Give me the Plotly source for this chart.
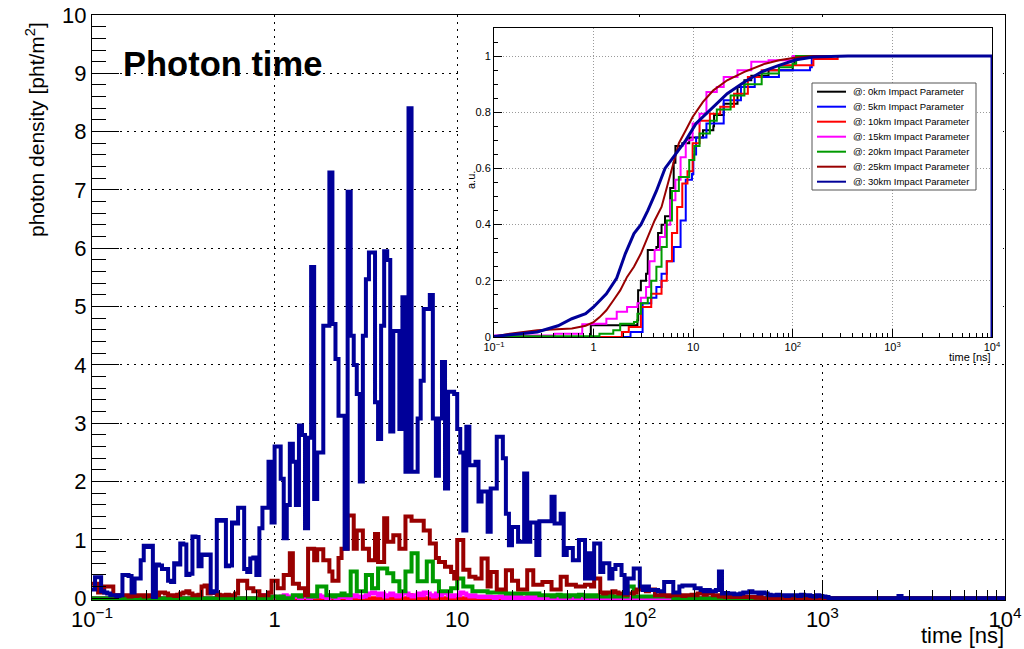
import numpy as np
import plotly.graph_objects as go

W, H = 1024, 649
FONT = "Liberation Sans, Arial, sans-serif"
# main frame in pixels
PL, PR, PT, PB = 92, 1005, 15, 600

# ---------------- binning of the photon-time histograms ----------------
N_BINS = 300
T_MIN, T_MAX = 0.1, 1.0e4
bin_edges = np.logspace(np.log10(T_MIN), np.log10(T_MAX), N_BINS + 1)

# photon density per time bin [pht/m^2], 30 km impact parameter
density_30km = [
    0.15, 0.36, 0.36, 0.12, 0.10, 0.08, 0.05, 0.05, 0.04, 0.05,
    0.40, 0.40, 0.38, 0.10, 0.34, 0.34, 0.65, 0.90, 0.88, 0.90,
    0.02, 0.58, 0.56, 0.50, 0.50, 0.30, 0.28, 0.60, 0.58, 0.94,
    0.92, 0.40, 0.42, 1.06, 1.05, 0.55, 0.75, 0.74, 0.75, 0.10,
    0.12, 1.34, 1.33, 1.34, 0.55, 0.56, 1.30, 1.28, 1.55, 1.55,
    0.50, 0.45, 0.68, 0.70, 0.40, 1.20, 1.55, 1.55, 2.34, 1.30,
    2.60, 2.60, 2.05, 1.03, 1.60, 2.65, 2.34, 1.60, 2.96, 2.80,
    1.20, 2.75, 5.68, 1.70, 2.50, 2.50, 4.67, 4.67, 7.30, 4.70,
    4.10, 3.13, 3.13, 0.85, 6.97, 4.50, 4.00, 3.50, 2.00, 4.50,
    5.47, 5.93, 5.93, 3.36, 2.73, 4.67, 5.95, 5.80, 2.86, 4.58,
    4.58, 2.90, 5.16, 2.17, 8.40, 2.17, 2.17, 3.08, 3.73, 4.96,
    4.96, 5.20, 3.08, 2.10, 3.08, 4.05, 1.88, 3.54, 3.54, 3.50,
    2.90, 2.50, 1.16, 2.94, 2.28, 2.28, 2.34, 1.66, 1.83, 1.83,
    1.14, 1.88, 1.88, 2.77, 2.77, 2.40, 1.45, 0.91, 1.22, 1.22,
    0.97, 0.97, 2.14, 0.97, 1.30, 1.30, 0.74, 1.32, 1.32, 1.32,
    1.32, 1.74, 1.28, 1.28, 1.45, 0.74, 0.86, 0.86, 0.65, 0.65,
    1.00, 1.00, 0.34, 0.77, 0.34, 0.94, 0.94, 0.45, 0.60, 0.60,
    0.34, 0.50, 0.57, 0.57, 0.40, 0.085, 0.34, 0.34, 0.51, 0.51,
    0.20, 0.14, 0.20, 0.14, 0.14, 0.14, 0.12, 0.12, 0.28, 0.28,
    0.28, 0.10, 0.10, 0.20, 0.22, 0.22, 0.22, 0.22, 0.17, 0.17,
    0.14, 0.12, 0.14, 0.12, 0.12, 0.14, 0.46, 0.08, 0.09, 0.08,
    0.08, 0.07, 0.07, 0.08, 0.10, 0.10, 0.12, 0.10, 0.10, 0.08,
    0.10, 0.08, 0.06, 0.05, 0.05, 0.06, 0.05, 0.05, 0.04, 0.05,
    0.05, 0.05, 0.04, 0.06, 0.05, 0.05, 0.04, 0.03, 0.05, 0.04,
    0.03, 0.02, 0.00, 0.00, 0.00, 0.00, 0.00, 0.00, 0.00, 0.00,
    0.00, 0.00, 0.00, 0.00, 0.00, 0.00, 0.00, 0.00, 0.00, 0.00,
    0.00, 0.00, 0.00, 0.00, 0.00, 0.04, 0.00, 0.00, 0.00, 0.00,
]

# 25 km impact parameter
density_25km = [
    0.25, 0.25, 0.10, 0.10, 0.20, 0.20, 0.20, 0.05, 0.04, 0.05,
    0.05, 0.05, 0.03, 0.05, 0.04, 0.05, 0.05, 0.03, 0.05, 0.04,
    0.03, 0.05, 0.10, 0.10, 0.08, 0.05, 0.05, 0.04, 0.06, 0.08,
    0.10, 0.12, 0.08, 0.05, 0.05, 0.06, 0.20, 0.22, 0.08, 0.10,
    0.09, 0.06, 0.05, 0.05, 0.06, 0.05, 0.05, 0.08, 0.30, 0.30,
    0.30, 0.17, 0.17, 0.12, 0.12, 0.05, 0.05, 0.05, 0.10, 0.30,
    0.30, 0.17, 0.17, 0.40, 0.40, 0.77, 0.25, 0.25, 0.17, 0.17,
    0.05, 0.85, 0.85, 0.65, 0.84, 0.84, 0.65, 0.65, 0.46, 0.30,
    0.30, 0.69, 0.85, 0.85, 1.42, 1.42, 0.85, 1.16, 1.16, 0.85,
    0.85, 0.65, 0.65, 1.10, 0.62, 0.62, 1.37, 0.97, 0.97, 1.08,
    1.08, 0.85, 0.85, 1.40, 1.40, 1.33, 1.33, 1.33, 1.33, 1.16,
    1.16, 0.94, 0.94, 0.69, 0.62, 0.62, 0.54, 0.54, 0.45, 0.34,
    1.00, 1.00, 0.49, 0.49, 0.37, 0.37, 0.34, 0.34, 0.68, 0.68,
    0.20, 0.45, 0.45, 0.15, 0.15, 0.15, 0.48, 0.48, 0.30, 0.30,
    0.15, 0.15, 0.15, 0.48, 0.48, 0.23, 0.23, 0.23, 0.28, 0.28,
    0.28, 0.15, 0.15, 0.15, 0.37, 0.37, 0.23, 0.23, 0.23, 0.20,
    0.20, 0.20, 0.23, 0.23, 0.20, 0.34, 0.34, 0.10, 0.08, 0.10,
    0.10, 0.12, 0.10, 0.08, 0.08, 0.06, 0.08, 0.08, 0.10, 0.15,
    0.15, 0.15, 0.12, 0.15, 0.15, 0.05, 0.05, 0.06, 0.05, 0.04,
    0.05, 0.05, 0.06, 0.05, 0.04, 0.05, 0.05, 0.06, 0.05, 0.08,
    0.10, 0.06, 0.10, 0.08, 0.05, 0.05, 0.03, 0.03, 0.02, 0.03,
    0.02, 0.03, 0.02, 0.02, 0.03, 0.02, 0.02, 0.02, 0.01, 0.02,
]

# 20 km impact parameter
density_20km = [0.0] * 59 + [
    0.03, 0.03, 0.00, 0.03, 0.00, 0.00, 0.00, 0.05, 0.05, 0.03, 0.05,
    0.05, 0.03, 0.05, 0.03, 0.20, 0.20, 0.20, 0.05, 0.05, 0.03,
    0.05, 0.05, 0.08, 0.05, 0.05, 0.46, 0.46, 0.12, 0.12, 0.12,
    0.40, 0.40, 0.17, 0.17, 0.51, 0.51, 0.51, 0.43, 0.43, 0.29,
    0.29, 0.12, 0.12, 0.46, 0.46, 0.77, 0.77, 0.29, 0.29, 0.29,
    0.63, 0.63, 0.29, 0.29, 0.12, 0.12, 0.12, 0.12, 0.17, 0.17,
    0.34, 0.34, 0.20, 0.20, 0.20, 0.12, 0.12, 0.12, 0.12, 0.12,
    0.10, 0.10, 0.10, 0.10, 0.10, 0.10, 0.08, 0.08, 0.08, 0.08,
    0.08, 0.08, 0.08, 0.08, 0.08, 0.08, 0.08, 0.05, 0.05, 0.05,
    0.05, 0.03, 0.05, 0.06, 0.03, 0.05, 0.03, 0.05, 0.05, 0.03,
    0.06, 0.05, 0.03, 0.05, 0.03, 0.05, 0.03, 0.03, 0.05, 0.03,
    0.05, 0.03, 0.03, 0.05, 0.03, 0.03, 0.20, 0.20, 0.03, 0.03,
    0.03, 0.03, 0.03, 0.03, 0.03, 0.03, 0.03, 0.03, 0.03, 0.03,
    0.03,
]

# 15 km impact parameter
density_15km = [0.0] * 55 + [
    0.03, 0.05, 0.03, 0.00, 0.03, 0.02, 0.00, 0.03, 0.05, 0.03,
    0.00, 0.02, 0.03, 0.00, 0.02, 0.03, 0.00, 0.02, 0.03, 0.05,
    0.03, 0.02, 0.00, 0.03, 0.02, 0.00, 0.03, 0.02, 0.03, 0.00,
    0.03, 0.05, 0.03, 0.02, 0.03, 0.05, 0.08, 0.10, 0.08, 0.05,
    0.08, 0.03, 0.05, 0.08, 0.05, 0.03, 0.05, 0.10, 0.08, 0.05,
    0.03, 0.05, 0.08, 0.05, 0.10, 0.08, 0.05, 0.03, 0.08, 0.05,
    0.10, 0.08, 0.05, 0.03, 0.05, 0.05, 0.10, 0.08, 0.05, 0.03,
    0.05, 0.03, 0.02, 0.03, 0.02, 0.03, 0.02, 0.00, 0.02, 0.03,
    0.00, 0.02, 0.00, 0.02, 0.00, 0.02, 0.00, 0.00, 0.02, 0.00,
    0.02,
]

# 10 km impact parameter (almost empty at this scale)
density_10km = [0.0] * 104 + [0.05, 0.00, 0.00, 0.00, 0.03] + [0.0] * 9 + [0.03]


def padded(values):
    """Trailing empty bins are zero."""
    assert len(values) <= N_BINS
    return list(values) + [0.0] * (N_BINS - len(values))


# ---------------- cumulative fractions for the inset ----------------
cdf_0km_t = [0.1, 0.938, 1.849, 2.754, 2.798, 2.983, 3.363, 3.499, 4.27, 4.44, 4.81,
             5.21, 5.88, 6.37, 6.63, 7.77, 9.12, 12.54, 15.93, 16.19, 20.24, 27.85,
             32.67, 38.3, 57.1, 99.8, 104]
cdf_0km_v = [0.0, 0.042, 0.042, 0.06, 0.166, 0.20, 0.225, 0.31, 0.32, 0.37, 0.40,
             0.43, 0.53, 0.62, 0.68, 0.69, 0.71, 0.736, 0.75, 0.79, 0.83, 0.89,
             0.914, 0.93, 0.95, 0.973, 1.0]

cdf_5km_t = [0.1, 2.348, 3.105, 3.79, 4.27, 4.81, 5.43, 6.37, 7.47, 8.42, 9.72, 10.03,
             10.69, 13.58, 20.24, 30.16, 41.5, 72.6, 149, 155]
cdf_5km_v = [0.0, 0.018, 0.12, 0.14, 0.178, 0.225, 0.27, 0.32, 0.415, 0.56, 0.58, 0.65,
             0.71, 0.76, 0.843, 0.89, 0.926, 0.95, 0.96, 1.0]

cdf_10km_t = [0.1, 1.923, 2.255, 2.983, 3.79, 4.81, 5.43, 6.12, 6.90, 7.77, 8.76, 9.87,
              11.58, 14.71, 18.69, 25.71, 35.38, 48.7, 72.6, 161, 282]
cdf_10km_v = [0.0, 0.018, 0.036, 0.107, 0.154, 0.20, 0.27, 0.37, 0.463, 0.546, 0.59, 0.69,
              0.77, 0.795, 0.82, 0.866, 0.926, 0.95, 0.967, 0.99, 1.0]

cdf_15km_t = [0.1, 0.375, 0.406, 0.769, 1.0, 1.343, 1.707, 2.168, 2.754, 2.983, 3.363,
              3.641, 4.10, 4.63, 5.21, 5.88, 6.63, 7.47, 8.42, 9.87, 11.58, 13.58,
              17.26, 20.24, 27.85, 38.3, 57.1, 99.8]
cdf_15km_v = [0.005, 0.005, 0.012, 0.045, 0.047, 0.065, 0.09, 0.107, 0.12, 0.14, 0.178,
              0.27, 0.31, 0.356, 0.40, 0.487, 0.56, 0.64, 0.70, 0.76, 0.795, 0.872,
              0.89, 0.926, 0.95, 0.98, 0.985, 1.0]

cdf_20km_t = [0.1, 0.605, 1.145, 1.576, 1.849, 2.543, 2.754, 2.983, 3.499, 3.79, 4.27,
              4.81, 5.43, 6.12, 7.18, 9.12, 10.27, 11.58, 14.71, 17.26, 23.74, 32.67,
              48.7, 72.6, 99.8, 108]
cdf_20km_v = [0.003, 0.003, 0.012, 0.024, 0.047, 0.053, 0.083, 0.12, 0.14, 0.20, 0.25,
              0.32, 0.415, 0.52, 0.57, 0.63, 0.68, 0.724, 0.77, 0.81, 0.86, 0.90,
              0.938, 0.96, 0.973, 1.0]

cdf_25km_t = [0.1, 0.144, 0.272, 0.605, 0.832, 1.0, 1.145, 1.343, 1.576, 1.849, 2.168,
              2.543, 2.983, 3.499, 4.10, 4.81, 5.43, 6.12, 7.18, 8.42, 9.87, 12.54,
              15.93, 21.92, 32.67, 52.7, 72.6, 108, 161]
cdf_25km_v = [0.002, 0.012, 0.024, 0.03, 0.04, 0.053, 0.07, 0.095, 0.13, 0.166, 0.214,
              0.25, 0.297, 0.356, 0.415, 0.463, 0.534, 0.605, 0.69, 0.736, 0.783, 0.837,
              0.878, 0.914, 0.944, 0.973, 0.985, 0.995, 1.0]

cdf_30km_t = [0.1, 0.272, 0.44, 0.605, 0.832, 1.0, 1.343, 1.707, 2.084, 2.543, 2.983,
              3.499, 4.27, 5.21, 6.63, 8.42, 10.69, 14.71, 21.92, 32.67, 48.7, 72.6,
              108, 161, 358]
cdf_30km_v = [0.002, 0.018, 0.04, 0.065, 0.083, 0.107, 0.154, 0.21, 0.297, 0.368, 0.40,
              0.45, 0.52, 0.60, 0.65, 0.70, 0.76, 0.807, 0.866, 0.908, 0.944, 0.967,
              0.987, 0.997, 1.0]

series_labels = ["@: 0km Impact Parameter", "@: 5km Impact Parameter",
                 "@: 10km Impact Parameter", "@: 15km Impact Parameter",
                 "@: 20km Impact Parameter", "@: 25km Impact Parameter",
                 "@: 30km Impact Parameter"]
series_colors = ["#000000", "#0000ff", "#ff0000", "#ff00ff", "#009a00", "#990000", "#000099"]
inset_t = [cdf_0km_t, cdf_5km_t, cdf_10km_t, cdf_15km_t, cdf_20km_t, cdf_25km_t, cdf_30km_t]
inset_v = [cdf_0km_v, cdf_5km_v, cdf_10km_v, cdf_15km_v, cdf_20km_v, cdf_25km_v, cdf_30km_v]
inset_shape = ["hv", "hv", "hv", "hv", "hv", "linear", "linear"]

decade_vals = [0.1, 1, 10, 100, 1000, 10000]
decade_text = ["10<sup>\u22121</sup>", "1", "10", "10<sup>2</sup>", "10<sup>3</sup>", "10<sup>4</sup>"]
minor_vals = [m * 10.0 ** e for e in range(-1, 4) for m in range(2, 10)]


def fx(px):
    """pixel column -> paper x (paper spans the main frame)"""
    return (px - PL) / (PR - PL)


def fy(py):
    """pixel row -> paper y"""
    return (PB - py) / (PB - PT)


fig = go.Figure()

# main histograms, drawn in ascending impact parameter so 30 km lies on top
main_series = [(density_10km, series_colors[2]), (density_15km, series_colors[3]),
               (density_20km, series_colors[4]), (density_25km, series_colors[5]),
               (density_30km, series_colors[6])]
for vals, col in main_series:
    v = padded(vals)
    fig.add_trace(go.Scatter(
        x=bin_edges, y=v + [v[-1]], mode="lines",
        line=dict(color=col, width=4, shape="hv"),
        xaxis="x", yaxis="y", showlegend=False, hoverinfo="skip"))

# empty white pad (own subplot) that sits behind the inset
fig.add_trace(go.Scatter(x=[0], y=[0], mode="lines", xaxis="x2", yaxis="y2",
                         showlegend=False, hoverinfo="skip"))

# inset cumulative curves
for t, v, col, shp in zip(inset_t, inset_v, series_colors, inset_shape):
    fig.add_trace(go.Scatter(
        x=list(t) + [T_MAX, T_MAX], y=list(v) + [1.0, 0.0], mode="lines",
        line=dict(color=col, width=3 if col == "#000099" else 2, shape=shp),
        xaxis="x3", yaxis="y3", showlegend=False, hoverinfo="skip"))

main_dash = "2px,5px"
hidden_axis = dict(visible=False, showgrid=False, zeroline=False, range=[1, 2],
                   fixedrange=True)
fig.update_layout(
    width=W, height=H,
    margin=dict(l=PL, r=W - PR, t=PT, b=H - PB, autoexpand=False),
    paper_bgcolor="white", plot_bgcolor="white",
    font=dict(family=FONT, color="black"),
    xaxis=dict(
        type="log", range=[-1, 4], domain=[0, 1], automargin=False,
        tickmode="array", tickvals=decade_vals, ticktext=decade_text,
        tickfont=dict(size=22), ticks="inside", ticklen=20, tickcolor="black",
        showline=True, linecolor="black", linewidth=1, mirror=True,
        showgrid=True, gridcolor="black", gridwidth=1, griddash=main_dash,
        zeroline=False,
        minor=dict(tickmode="array", tickvals=minor_vals, ticks="inside",
                   ticklen=10, tickcolor="black", showgrid=False),
    ),
    yaxis=dict(
        range=[-0.03, 10], domain=[0, 1], tick0=0, dtick=1, automargin=False,
        tickfont=dict(size=22), ticks="inside", ticklen=27, tickcolor="black",
        showline=True, linecolor="black", linewidth=1, mirror=True,
        showgrid=True, gridcolor="black", gridwidth=1, griddash=main_dash,
        zeroline=False,
        minor=dict(dtick=0.2, ticks="inside", ticklen=14, tickcolor="black",
                   showgrid=False),
    ),
    xaxis2=dict(hidden_axis, domain=[fx(462), fx(1003)], anchor="y2"),
    yaxis2=dict(hidden_axis, domain=[fy(363), fy(18)], anchor="x2"),
    xaxis3=dict(
        type="log", range=[-1, 4], domain=[fx(494), fx(992)], anchor="y3",
        automargin=False,
        tickmode="array", tickvals=decade_vals, ticktext=decade_text,
        tickfont=dict(size=11), ticks="inside", ticklen=8, tickcolor="black",
        showline=True, linecolor="black", linewidth=1, mirror=True,
        showgrid=True, gridcolor="#9a9a9a", gridwidth=1, griddash="1px,2px",
        zeroline=False,
        minor=dict(tickmode="array", tickvals=minor_vals, ticks="inside",
                   ticklen=4, tickcolor="black", showgrid=False),
    ),
    yaxis3=dict(
        range=[0, 1.1], domain=[fy(337), fy(28)], anchor="x3", tick0=0, dtick=0.2,
        automargin=False,
        tickfont=dict(size=11), ticks="inside", ticklen=8, tickcolor="black",
        showline=True, linecolor="black", linewidth=1, mirror=True,
        showgrid=True, gridcolor="#9a9a9a", gridwidth=1, griddash="1px,2px",
        zeroline=False,
        minor=dict(dtick=0.05, ticks="inside", ticklen=4, tickcolor="black",
                   showgrid=False),
    ),
)

shapes = [
    # legend box of the inset
    dict(type="rect", xref="paper", yref="paper",
         x0=fx(812), x1=fx(976), y0=fy(190), y1=fy(83),
         fillcolor="white", line=dict(color="#555555", width=1), layer="above"),
]
annotations = [
    dict(text="<b>Photon time</b>", x=fx(121), y=fy(64), xref="paper", yref="paper",
         xanchor="left", yanchor="middle", showarrow=False,
         font=dict(size=34.5, family=FONT, color="black")),
    dict(text="photon density [pht/m<sup>2</sup>]", x=fx(35), y=fy(130),
         xref="paper", yref="paper", textangle=-90, xanchor="center", yanchor="middle",
         showarrow=False, font=dict(size=21, family=FONT, color="black")),
    dict(text="time [ns]", x=fx(1006), y=fy(635), xref="paper", yref="paper",
         xanchor="right", yanchor="middle", showarrow=False,
         font=dict(size=22, family=FONT, color="black")),
    dict(text="time [ns]", x=fx(993), y=fy(357), xref="paper", yref="paper",
         xanchor="right", yanchor="middle", showarrow=False,
         font=dict(size=11, family=FONT, color="black")),
    dict(text="a.u.", x=fx(471), y=fy(180), xref="paper", yref="paper",
         textangle=-90, xanchor="center", yanchor="middle", showarrow=False,
         font=dict(size=11, family=FONT, color="black")),
]
for k, (lab, col) in enumerate(zip(series_labels, series_colors)):
    yc = 91.7 + 15.0 * k
    shapes.append(dict(type="line", xref="paper", yref="paper",
                       x0=fx(817), x1=fx(846), y0=fy(yc), y1=fy(yc),
                       line=dict(color=col, width=2), layer="above"))
    annotations.append(dict(text=lab, x=fx(851), y=fy(yc), xref="paper", yref="paper",
                            xanchor="left", yanchor="middle", showarrow=False,
                            font=dict(size=9.5, family=FONT, color="black")))

fig.update_layout(shapes=shapes, annotations=annotations)
fig.write_html("out.html")
